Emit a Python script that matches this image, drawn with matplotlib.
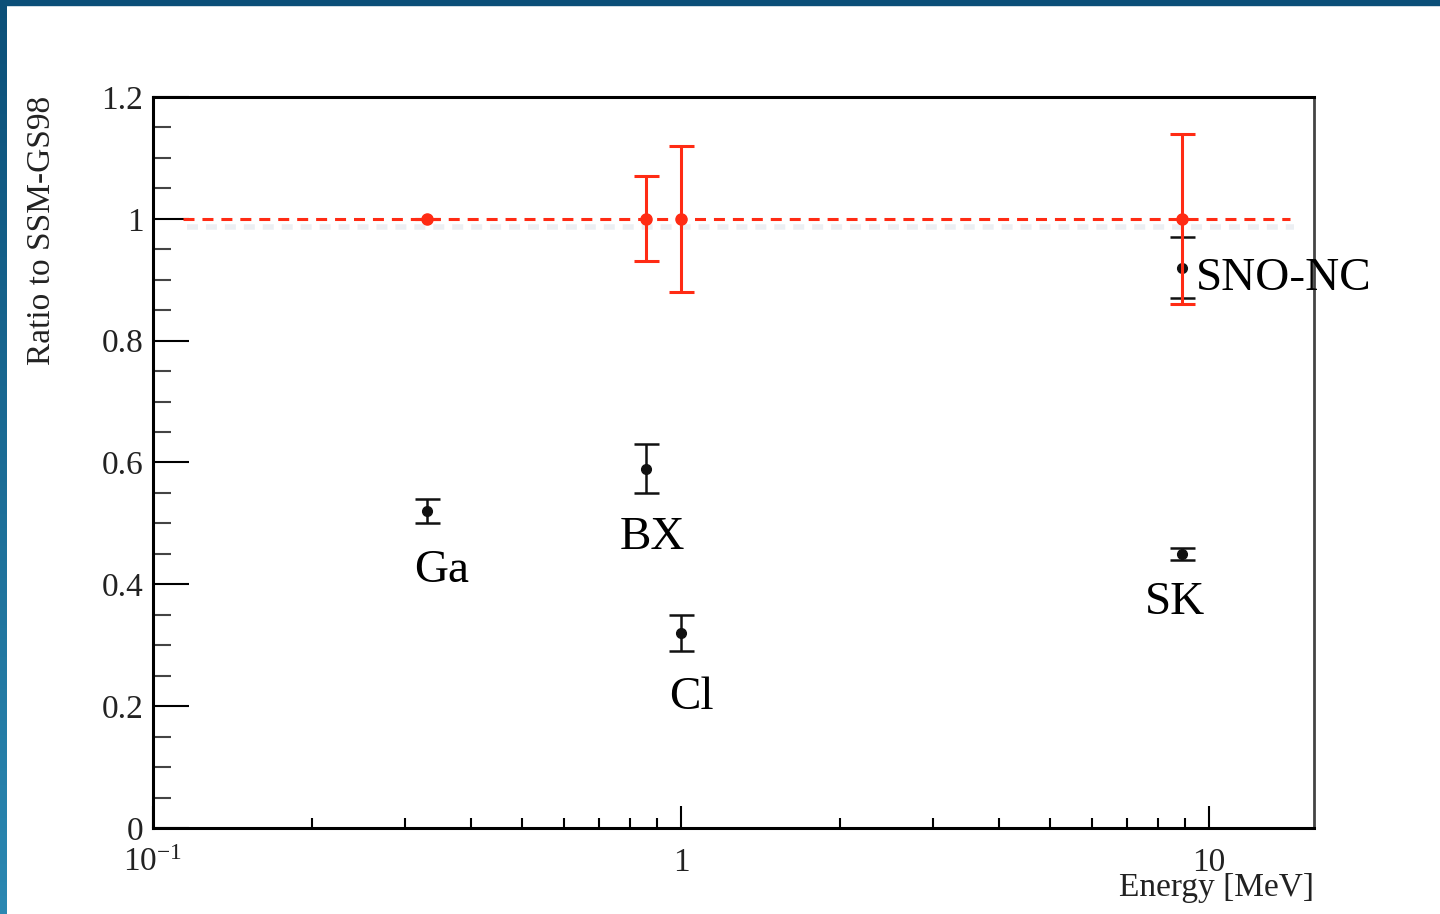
import numpy as np
import matplotlib
matplotlib.use('Agg')
import matplotlib.pyplot as plt
import matplotlib.patheffects as pe
from matplotlib.ticker import FixedLocator, FuncFormatter, LogLocator, NullFormatter

plt.rcParams['font.family'] = ['Liberation Serif', 'DejaVu Serif']
plt.rcParams['mathtext.fontset'] = 'custom'
plt.rcParams['mathtext.rm'] = 'Liberation Serif'
plt.rcParams['mathtext.it'] = 'Liberation Serif:italic'

# measured ratios to SSM-GS98
exp_names = ['Ga', 'BX', 'Cl', 'SK', 'SNO-NC']
exp_energy = [0.33, 0.86, 1.0, 8.9, 8.9]
exp_ratio = [0.52, 0.59, 0.32, 0.45, 0.92]
exp_err = [0.02, 0.04, 0.03, 0.01, 0.05]

# model predictions (normalised to 1) with theory errors
ssm_energy = [0.33, 0.86, 1.0, 8.9]
ssm_ratio = [1.0, 1.0, 1.0, 1.0]
ssm_err = [0.0, 0.07, 0.12, 0.14]
ssm_line_x = [0.114, 14.2]
ssm_line_y = [1.0, 1.0]

# label offsets in pixels from each point
label_offsets = {'Ga': (15, -60, 'center'), 'BX': (6, -69, 'center'),
                 'Cl': (10, -65, 'center'), 'SK': (-7, -49, 'center'),
                 'SNO-NC': (14, -11, 'left')}

red = '#ff2b14'
fig = plt.figure(figsize=(14.4, 9.14), dpi=100)

# blue slide border
fig.patches.append(plt.Rectangle((0, 1 - 5 / 914), 1, 5 / 914, transform=fig.transFigure,
                                 color='#0b4f78', zorder=0))
bax = fig.add_axes([0, 0, 7 / 1440, 1])
grad = np.linspace(0, 1, 256).reshape(-1, 1)
bax.imshow(grad, aspect='auto', cmap=matplotlib.colors.LinearSegmentedColormap.from_list(
    'b', ['#0b4f78', '#2b88b2']), origin='upper')
bax.axis('off')

ax = fig.add_axes([153 / 1440, 1 - 828 / 914, (1314 - 153) / 1440, (828 - 97) / 914])
ax.set_xscale('log')
ax.set_xlim(0.1, 15.8)
ax.set_ylim(0, 1.2)

ax.plot(ssm_line_x, ssm_line_y, color=red, lw=2.2, dashes=(3.6, 2.6), zorder=2,
        path_effects=[pe.SimpleLineShadow(offset=(3, -6), shadow_color='#c3cdd9', alpha=0.3,
                                          linewidth=4),
                      pe.Normal()])

ax.errorbar(ssm_energy, ssm_ratio, yerr=ssm_err, fmt='o', color=red, ms=8,
            elinewidth=2.2, capsize=9, capthick=2.2, zorder=4)
ax.errorbar(exp_energy, exp_ratio, yerr=exp_err, fmt='o', color='#111111', ms=7,
            elinewidth=1.8, capsize=9, capthick=1.8, zorder=3)

for name, x, y in zip(exp_names, exp_energy, exp_ratio):
    dx, dy, ha = label_offsets[name]
    ax.annotate(name, (x, y), xytext=(dx, dy), textcoords='offset pixels',
                ha=ha, va='center', fontsize=34, color='black', zorder=5)

# ROOT-like axes
for side in ['left', 'bottom', 'top']:
    ax.spines[side].set_linewidth(2.2)
    ax.spines[side].set_color('black')
ax.spines['right'].set_linewidth(2)
ax.spines['right'].set_color('#444444')

ax.yaxis.set_major_locator(FixedLocator([0, 0.2, 0.4, 0.6, 0.8, 1.0, 1.2]))
ax.yaxis.set_minor_locator(FixedLocator(np.arange(0, 1.2001, 0.05)))
ax.yaxis.set_major_formatter(FuncFormatter(lambda v, p: '1' if abs(v - 1) < 1e-6 else ('0' if v == 0 else f'{v:.1f}')))
ax.xaxis.set_major_locator(FixedLocator([0.1, 1, 10]))
ax.xaxis.set_major_formatter(FuncFormatter(lambda v, p: {0.1: '$10^{-1}$', 1: '1', 10: '10'}.get(round(v, 3), '')))
ax.xaxis.set_minor_locator(LogLocator(base=10, subs=np.arange(2, 10), numticks=20))
ax.xaxis.set_minor_formatter(NullFormatter())

ax.tick_params(axis='y', which='major', direction='in', length=26, width=1.5,
               labelsize=24, pad=7, left=True, right=False, labelcolor='#222222')
ax.tick_params(axis='y', which='minor', direction='in', length=13, width=1.5,
               left=True, right=False, color='#444444')
ax.tick_params(axis='x', which='major', direction='in', length=16, width=1.5,
               labelsize=24, pad=14, bottom=True, top=False, labelcolor='#222222')
ax.tick_params(axis='x', which='minor', direction='in', length=7, width=1.5,
               bottom=True, top=False)

ax.set_xlabel('Energy [MeV]', fontsize=24, color='#222222', loc='right')
ax.xaxis.set_label_coords(1.0, -0.061)
fig.text(42 / 1440, 1 - 230 / 914, 'Ratio to SSM-GS98', rotation=90, ha='center', va='center',
         fontsize=24, color='#222222')

fig.savefig('out.png', dpi=100)
